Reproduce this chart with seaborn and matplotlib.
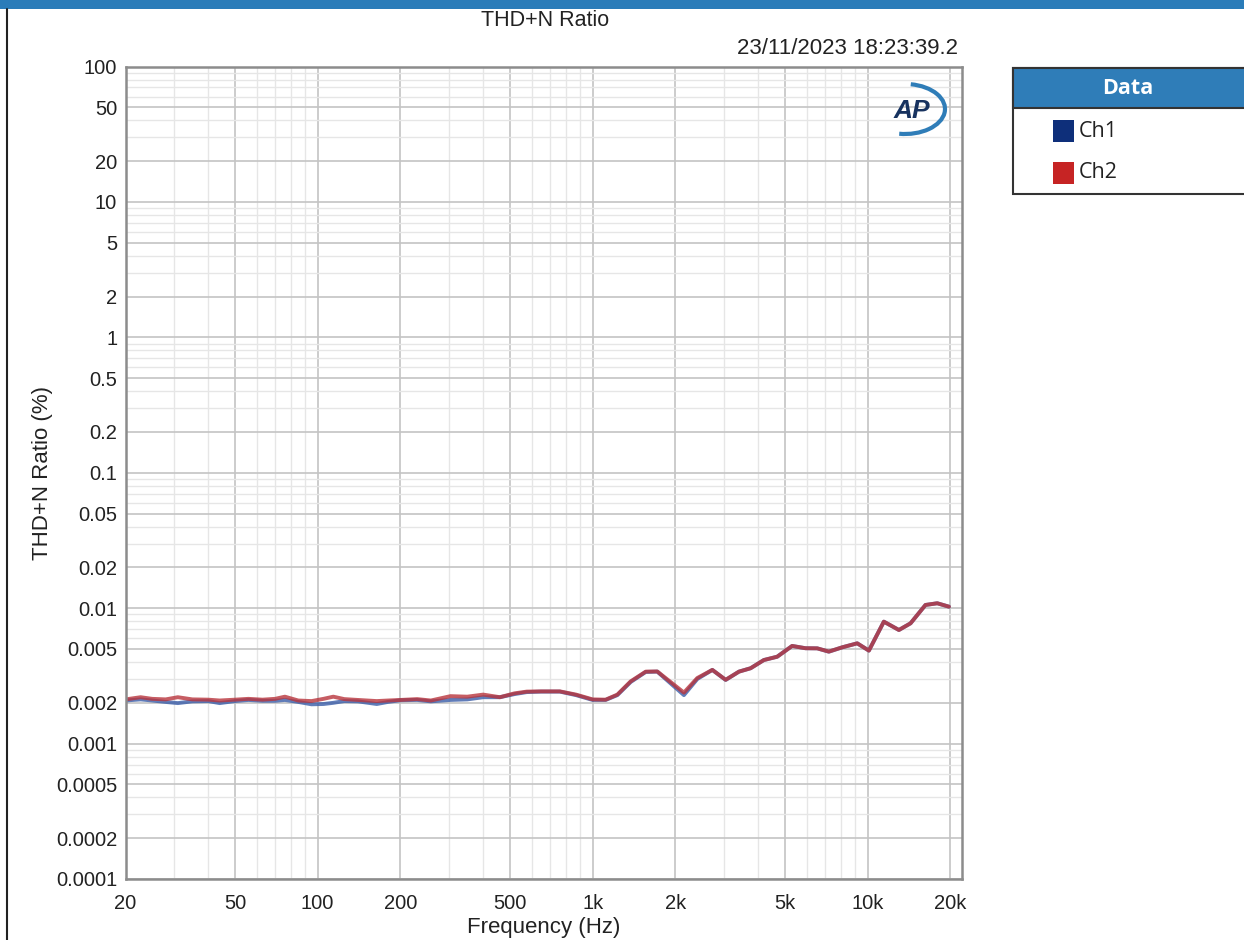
import numpy as np
import pandas as pd
import matplotlib
matplotlib.use("Agg")
import matplotlib.pyplot as plt
from matplotlib.patches import Rectangle, Arc
from matplotlib.ticker import FixedLocator, NullFormatter
import seaborn as sns

# sweep points
freq_hz = [20, 22.7, 25, 28, 31, 35, 40, 44, 50, 56, 63, 70, 76, 85, 95, 105, 114,
           125, 140, 164, 180, 200, 230, 258, 304, 350, 400, 460, 520, 576, 650,
           760, 870, 1000, 1115, 1230, 1375, 1560, 1718, 2148, 2403, 2725, 3047,
           3407, 3754, 4195, 4690, 5316, 5946, 6560, 7230, 8090, 9170, 10110,
           11460, 13000, 14330, 16240, 17920, 19760]
ch1_pct = [0.00208, 0.00212, 0.00208, 0.00203, 0.00199, 0.00205, 0.00206, 0.00199,
           0.00206, 0.00210, 0.00207, 0.00207, 0.00210, 0.00203, 0.00195, 0.00196,
           0.00200, 0.00206, 0.00205, 0.00196, 0.00203, 0.00209, 0.00210, 0.00205,
           0.00210, 0.00212, 0.00220, 0.00220, 0.00232, 0.00240, 0.00242, 0.00242,
           0.00228, 0.00210, 0.00210, 0.00228, 0.00285, 0.00338, 0.00340, 0.00228,
           0.00300, 0.00350, 0.00295, 0.00340, 0.00360, 0.00414, 0.00438, 0.00526,
           0.00506, 0.00505, 0.00477, 0.00514, 0.00550, 0.00486, 0.00795, 0.00690,
           0.00773, 0.01056, 0.01087, 0.01026]
ch2_pct = [0.00212, 0.00220, 0.00214, 0.00212, 0.00220, 0.00212, 0.00211, 0.00208,
           0.00211, 0.00214, 0.00211, 0.00214, 0.00222, 0.00208, 0.00206, 0.00214,
           0.00222, 0.00213, 0.00210, 0.00206, 0.00208, 0.00210, 0.00213, 0.00208,
           0.00224, 0.00222, 0.00230, 0.00220, 0.00235, 0.00242, 0.00243, 0.00243,
           0.00230, 0.00212, 0.00211, 0.00230, 0.00288, 0.00340, 0.00341, 0.00238,
           0.00305, 0.00350, 0.00296, 0.00340, 0.00360, 0.00414, 0.00438, 0.00526,
           0.00506, 0.00505, 0.00478, 0.00514, 0.00550, 0.00486, 0.00795, 0.00690,
           0.00773, 0.01056, 0.01087, 0.01026]

x_ticks = [20, 50, 100, 200, 500, 1000, 2000, 5000, 10000, 20000]
x_tick_labels = ["20", "50", "100", "200", "500", "1k", "2k", "5k", "10k", "20k"]
y_ticks = [100, 50, 20, 10, 5, 2, 1, 0.5, 0.2, 0.1, 0.05, 0.02, 0.01, 0.005,
           0.002, 0.001, 0.0005, 0.0002, 0.0001]
y_tick_labels = ["100", "50", "20", "10", "5", "2", "1", "0.5", "0.2", "0.1", "0.05",
                 "0.02", "0.01", "0.005", "0.002", "0.001", "0.0005", "0.0002", "0.0001"]

W, H = 1244, 940


def fx(px):
    return px / W


def fy(py):
    return 1 - py / H


df = pd.DataFrame({
    "Frequency": freq_hz * 2,
    "THD+N": ch1_pct + ch2_pct,
    "Channel": ["Ch1"] * len(freq_hz) + ["Ch2"] * len(freq_hz),
})

sns.set_theme(style="white")
plt.rcParams["font.family"] = ["Liberation Sans", "DejaVu Sans"]

fig = plt.figure(figsize=(W / 100, H / 100), dpi=100)
ax = fig.add_axes([fx(125.5), fy(879), fx(962) - fx(125.5), fy(66.5) - fy(879)])

sns.lineplot(data=df, x="Frequency", y="THD+N", hue="Channel",
             palette={"Ch1": "#3a5da8", "Ch2": "#b8343c"},
             linewidth=2.8, alpha=0.8, legend=False, ax=ax)

ax.set_xscale("log")
ax.set_yscale("log")
ax.set_xlim(20, 22050)
ax.set_ylim(0.0001, 100)

# grid: labelled values darker, the rest lighter
ax.xaxis.set_major_locator(FixedLocator(x_ticks))
ax.set_xticklabels(x_tick_labels)
minor_x = [m * d for d in (10, 100, 1000, 10000) for m in range(1, 10)
           if 20 <= m * d <= 22000 and m * d not in x_ticks]
ax.xaxis.set_minor_locator(FixedLocator(minor_x))
ax.xaxis.set_minor_formatter(NullFormatter())
ax.yaxis.set_major_locator(FixedLocator(y_ticks))
ax.set_yticklabels(y_tick_labels)
minor_y = [m * 10.0 ** e for e in range(-4, 2) for m in (3, 4, 6, 7, 8, 9)]
ax.yaxis.set_minor_locator(FixedLocator(minor_y))
ax.yaxis.set_minor_formatter(NullFormatter())
ax.grid(which="major", color="#c4c4c4", linewidth=1.2)
ax.grid(which="minor", color="#e6e6e6", linewidth=1.0)
ax.set_axisbelow(True)
ax.tick_params(which="both", length=0, labelsize=14.5, colors="#222222")
ax.tick_params(axis="x", pad=11)
ax.tick_params(axis="y", pad=6)
for sp in ax.spines.values():
    sp.set_color("#8c8c8c")
    sp.set_linewidth(1.8)

ax.set_xlabel("Frequency (Hz)", fontsize=16, color="#222222", labelpad=3)
ax.set_ylabel("THD+N Ratio (%)", fontsize=16, color="#222222", labelpad=2)

fig.text(fx(545), fy(20), "THD+N Ratio", ha="center", va="center", fontsize=15.5, color="#222222")
fig.text(fx(958), fy(48), "23/11/2023 18:23:39.2", ha="right", va="center", fontsize=16, color="#222222")

# window chrome
fig.patches.append(Rectangle((0, fy(9)), 1, 9 / H, transform=fig.transFigure,
                             facecolor="#2b7cb9", edgecolor="none"))
fig.lines.append(plt.Line2D([fx(7), fx(7)], [0, fy(9)], transform=fig.transFigure,
                            color="#222222", linewidth=1.5))

# AP logo
fig.text(fx(912), fy(111), "AP", ha="center", va="center", fontsize=19,
         fontweight="bold", fontstyle="italic", color="#17325f")
fig.patches.append(Arc((fx(905), fy(109)), 80 / W, 50 / H, theta1=-100, theta2=80,
                       transform=fig.transFigure, color="#2f7db8", linewidth=3.0))

# legend panel
fig.patches.append(Rectangle((fx(1013), fy(194)), fx(1250) - fx(1013), (194 - 68) / H,
                             transform=fig.transFigure, facecolor="white",
                             edgecolor="#333333", linewidth=1.5))
fig.patches.append(Rectangle((fx(1013), fy(108)), fx(1250) - fx(1013), (108 - 68) / H,
                             transform=fig.transFigure, facecolor="#2f7db8",
                             edgecolor="#333333", linewidth=1.5))
fig.text(fx(1128), fy(89), "Data", ha="center", va="center", fontsize=15.5,
         fontweight="bold", color="white", family=["Open Sans", "DejaVu Sans"])
for name, col, yc in [("Ch1", "#0e2f7a", 131), ("Ch2", "#c62424", 173)]:
    fig.patches.append(Rectangle((fx(1053), fy(yc + 11)), 21 / W, 22 / H,
                                 transform=fig.transFigure, facecolor=col, edgecolor="none"))
    fig.text(fx(1079), fy(yc), name, ha="left", va="center", fontsize=15.5,
             color="#222222", family=["Open Sans", "DejaVu Sans"])

fig.savefig("out.png", dpi=100)
